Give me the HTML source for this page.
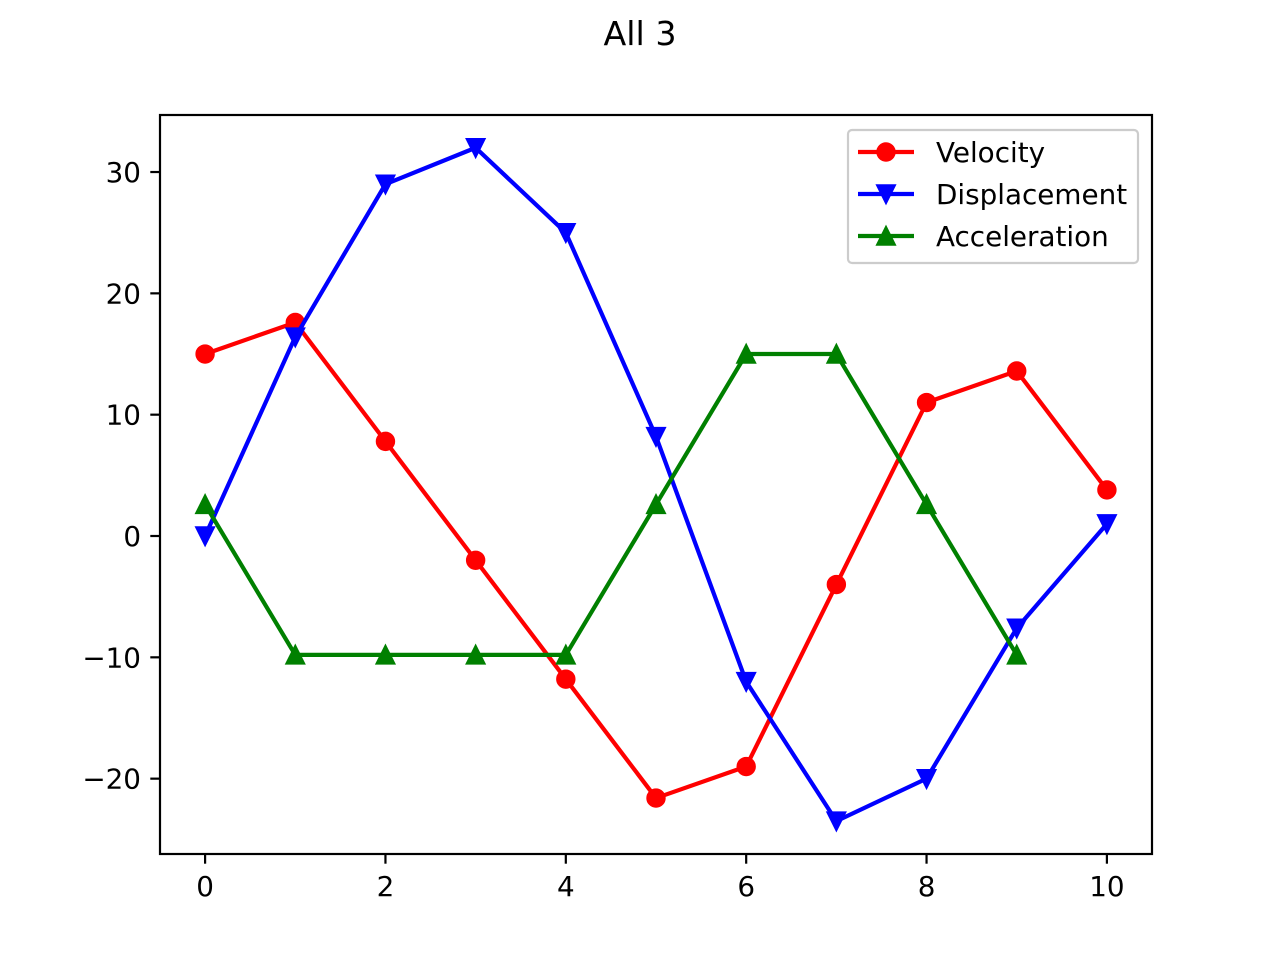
<!DOCTYPE html>
<html><head><meta charset="utf-8"><style>
html,body{margin:0;padding:0;background:#fff;}
svg text{font-family:"DejaVu Sans","Liberation Sans",sans-serif;fill:#000;}
</style></head><body>
<svg id="chart" width="1280" height="960" xmlns="http://www.w3.org/2000/svg">
<rect width="1280" height="960" fill="#fff"/>
<text x="640" y="45" font-size="33.3" text-anchor="middle">All 3</text>
<g id="plot"></g>
</svg>
<script>
const xs = [0,1,2,3,4,5,6,7,8,9,10];
const velocity = [15,17.6,7.8,-2,-11.8,-21.6,-19,-4,11,13.6,3.8];
const displacement = [0,16.4,29,32,25,8.2,-12,-23.5,-20,-7.6,1];
const acceleration = [2.6,-9.8,-9.8,-9.8,-9.8,2.6,15,15,2.6,-9.8];
const xTicks = [0,2,4,6,8,10];
const yTicks = [-20,-10,0,10,20,30];
const seriesNames = ["Velocity","Displacement","Acceleration"];

const L=160,R=1152,T=115,B=854;
const xMin=-0.5,xMax=10.5,yMin=-26.21,yMax=34.7;
const sx=v=>L+(v-xMin)/(xMax-xMin)*(R-L);
const sy=v=>B-(v-yMin)/(yMax-yMin)*(B-T);
const NS="http://www.w3.org/2000/svg";
const g=document.getElementById('plot');
function mk(tag,attrs,parent){const e=document.createElementNS(NS,tag);for(const k in attrs)e.setAttribute(k,attrs[k]);(parent||g).appendChild(e);return e;}

xTicks.forEach(t=>{
  const ln=mk('line',{x1:sx(t),x2:sx(t),y1:B,y2:B+9.7,stroke:'#000','stroke-width':2.2});
  
  
  const tx=mk('text',{x:sx(t),y:B+42,'font-size':27.8,'text-anchor':'middle'});
  
  
  tx.textContent=String(t);
});
yTicks.forEach(t=>{
  const ln=mk('line',{x1:L-9.7,x2:L,y1:sy(t),y2:sy(t),stroke:'#000','stroke-width':2.2});
  
  
  const tx=mk('text',{x:L-19,y:sy(t)+10,'font-size':27.8,'text-anchor':'end'});
  
  
  tx.textContent=(t<0?'\u2212'+(-t):String(t));
});

function marker(type,x,y,color,parent){
  const r=8.3;
  const st={fill:color,stroke:color,'stroke-width':2.8,'stroke-linejoin':'miter'};
  let e;
  if(type==='o') e=mk('circle',Object.assign({cx:x,cy:y,r:r},st),parent);
  else if(type==='v') e=mk('polygon',Object.assign({points:`${x-r},${y-r} ${x+r},${y-r} ${x},${y+r}`},st),parent);
  else e=mk('polygon',Object.assign({points:`${x-r},${y+r} ${x+r},${y+r} ${x},${y-r}`},st),parent);
  return e;
}
const series=[
  {vals:velocity,color:'#ff0000',m:'o',name:'velocity'},
  {vals:displacement,color:'#0000ff',m:'v',name:'displacement'},
  {vals:acceleration,color:'#008000',m:'^',name:'acceleration'}
];
series.forEach(s=>{
  const pts=s.vals.map((v,i)=>sx(xs[i])+','+sy(v)).join(' ');
  const pl=mk('polyline',{points:pts,fill:'none',stroke:s.color,'stroke-width':4.2,'stroke-linejoin':'round','stroke-linecap':'square'});
  
  
  s.vals.forEach((v,i)=>{
    const m=marker(s.m,sx(xs[i]),sy(v),s.color);
    
    
  });
});

const fr=mk('rect',{x:L,y:T,width:R-L,height:B-T,fill:'none',stroke:'#000','stroke-width':2.2});



const lg=mk('g',{});


mk('rect',{x:848,y:130,width:290,height:133,rx:4,fill:'#fff','fill-opacity':0.8,stroke:'#ccc','stroke-width':2.2},lg);
series.forEach((s,i)=>{
  const y=152+i*42;
  const ent=mk('g',{},lg);
  
  
  mk('line',{x1:858,x2:914,y1:y,y2:y,stroke:s.color,'stroke-width':4.2},ent);
  marker(s.m,886,y,s.color,ent);
  const t=mk('text',{x:936,y:y+10,'font-size':27.8},ent);
  t.textContent=seriesNames[i];
});
</script>
</body></html>
